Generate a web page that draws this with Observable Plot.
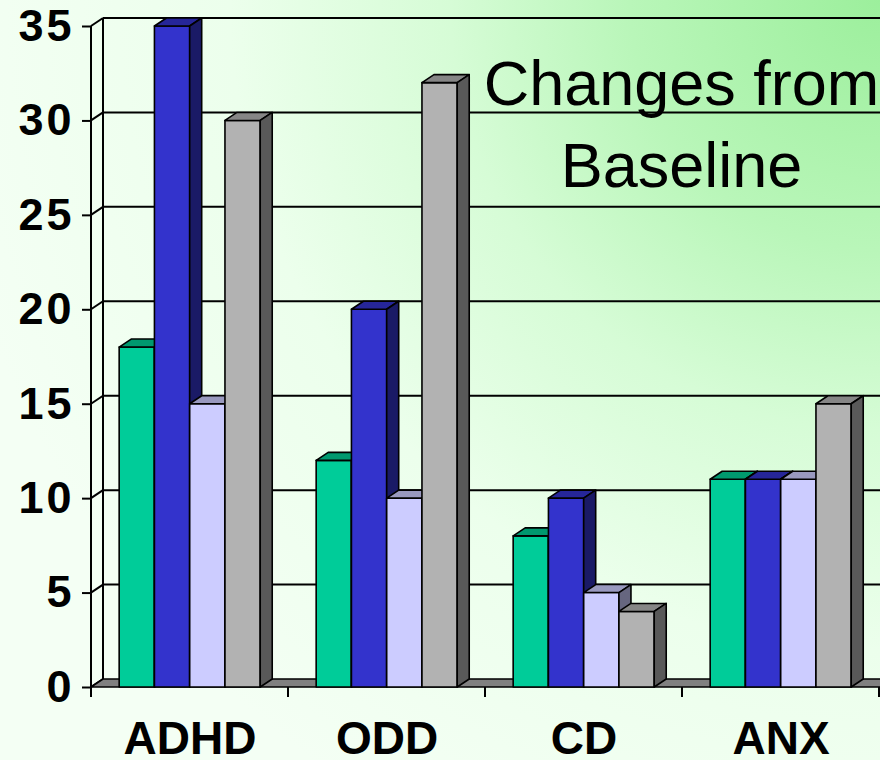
<!DOCTYPE html>
<html>
<head>
<meta charset="utf-8">
<script src="https://cdn.jsdelivr.net/npm/d3@7"></script>
<script src="https://cdn.jsdelivr.net/npm/@observablehq/plot@0.6"></script>
<style>
  body { margin: 0; background: #f4fff4; }
  #chart svg { display: block; }
  #chart svg g[aria-label="y-axis tick label"] text { font-weight: bold; letter-spacing: 3px; }
</style>
</head>
<body>
<div id="chart"></div>
<script>
// ---- data ----
const categories = ["ADHD", "ODD", "CD", "ANX"];
const series1 = [18, 12, 8, 11];
const series2 = [35, 20, 10, 11];
const series3 = [15, 10, 5, 11];
const series4 = [30, 32, 4, 15];
const yTicks = [0, 5, 10, 15, 20, 25, 30, 35];
const titleLines = ["Changes from", "Baseline"];

// ---- styling ----
const frontColors = ["#00cc99", "#3333cc", "#ccccff", "#b2b2b2"];
const topColors   = ["#00996f", "#262699", "#9999bf", "#868686"];
const sideColors  = ["#006650", "#1a1a66", "#66667f", "#595959"];
const DX = 12, DY = -8;
const GROUP_START = 0.143, BAR_FRAC = 0.179;

const seriesValues = [series1, series2, series3, series4];
const rows = [];
categories.forEach((c, i) => seriesValues.forEach((vals, s) => rows.push({category: c, series: s, value: vals[i]})));

function threeD(index, scales, values, dims) {
  const {x, y} = scales;
  const bw = x.bandwidth();
  const L = dims.marginLeft;
  const R = dims.width + 30;
  const B = y(0);
  const T = y(yTicks[yTicks.length - 1]);
  const g = d3.create("svg:g");
  const line = (x1, y1, x2, y2, w = 2) =>
    g.append("line").attr("x1", x1).attr("y1", y1).attr("x2", x2).attr("y2", y2)
      .attr("stroke", "#000").attr("stroke-width", w);
  const poly = (pts, fill, w = 1.6) =>
    g.append("polygon").attr("points", pts.map(p => p.join(",")).join(" "))
      .attr("fill", fill).attr("stroke", "#000").attr("stroke-width", w).attr("stroke-linejoin", "round");

  // back wall gridlines + connectors
  for (const t of yTicks) {
    const yy = y(t);
    if (t > 0) line(L + DX, yy + DY, R, yy + DY);
    line(L, yy, L + DX, yy + DY);
  }
  // back wall left edge
  line(L + DX, T + DY, L + DX, B + DY);
  // floor
  poly([[L, B], [R, B], [R + DX, B + DY], [L + DX, B + DY]], "#808080", 1.6);
  // front y axis line
  line(L, T, L, B);
  // x ticks at band boundaries
  const bounds = categories.map(c => x(c)).concat([x(categories[categories.length - 1]) + bw]);
  for (const xb of bounds) line(xb, B, xb, B + 10);
  // bars
  for (const r of rows) {
    const x0 = x(r.category) + bw * (GROUP_START + r.series * BAR_FRAC);
    const x1 = x0 + bw * BAR_FRAC;
    const yt = y(r.value);
    poly([[x0, yt], [x1, yt], [x1, B], [x0, B]], frontColors[r.series]);
    poly([[x0, yt], [x0 + DX, yt + DY], [x1 + DX, yt + DY], [x1, yt]], topColors[r.series]);
    poly([[x1, yt], [x1 + DX, yt + DY], [x1 + DX, B + DY], [x1, B]], sideColors[r.series]);
  }
  return g.node();
}

const chart = Plot.plot({
  width: 880,
  height: 760,
  marginLeft: 91,
  marginRight: 1,
  marginTop: 26,
  marginBottom: 73,
  style: "background: radial-gradient(circle at 100% 0%, #9cef9c 0px, #b9f6b9 250px, #d6fcd6 430px, #ecffec 650px, #f4fff4 950px); font-family: 'Liberation Sans', Arial, sans-serif; color: #000;",
  x: {type: "band", domain: categories, padding: 0, axis: null},
  y: {domain: [0, 35]},
  marks: [
    threeD,
    Plot.axisY({ticks: yTicks, tickSize: 9, tickPadding: 8, strokeWidth: 2, fontSize: 45, fontWeight: "bold", tickFormat: d => String(d), label: null}),
    Plot.text(categories, {x: d => d, frameAnchor: "bottom", lineAnchor: "top", dy: 34, fontSize: 46, fontWeight: "bold", fill: "#000"}),
    Plot.text([titleLines.join("\n")], {frameAnchor: "top", dx: 196, dy: 20, lineAnchor: "top", fontSize: 63, lineHeight: 82 / 63, fill: "#000"})
  ]
});
document.getElementById("chart").append(chart);
</script>
</body>
</html>
